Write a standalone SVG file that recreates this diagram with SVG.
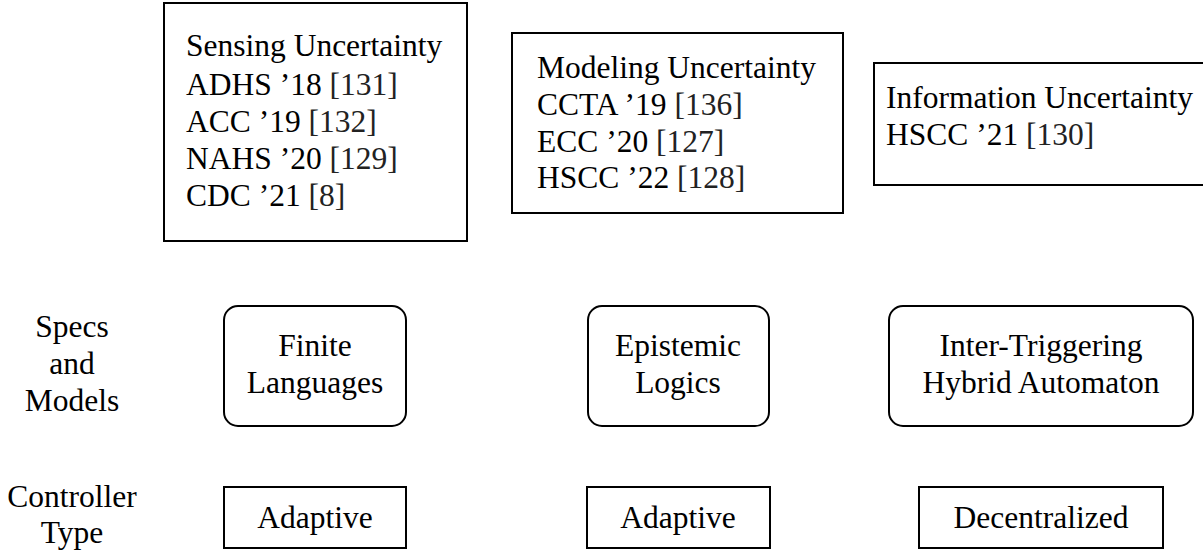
<svg xmlns="http://www.w3.org/2000/svg" width="1203" height="552" viewBox="0 0 1203 552">
  <style>
    text { font-family: "Liberation Serif", "Times New Roman", serif; font-size: 31.5px; fill: #000; }
    .mid { text-anchor: middle; }
    .cite { fill: #222; }
    .box { fill: #fff; stroke: #000; stroke-width: 2; }
  </style>
  <rect width="1203" height="552" fill="#fff"/>

  <!-- row labels -->
  <g id="label-specs">
    <text class="mid" x="72" y="337">Specs</text>
    <text class="mid" x="72" y="374">and</text>
    <text class="mid" x="72" y="411">Models</text>
  </g>
  <g id="label-controller">
    <text class="mid" x="72" y="507">Controller</text>
    <text class="mid" x="72" y="543">Type</text>
  </g>

  <!-- uncertainty categories with publications -->
  <g id="sensing">
    <rect class="box" x="164" y="3" width="303" height="238"/>
    <text x="186" y="56">Sensing Uncertainty</text>
    <text x="186" y="95">ADHS ’18 <tspan class="cite">[131]</tspan></text>
    <text x="186" y="132">ACC ’19 <tspan class="cite">[132]</tspan></text>
    <text x="186" y="169">NAHS ’20 <tspan class="cite">[129]</tspan></text>
    <text x="186" y="206">CDC ’21 <tspan class="cite">[8]</tspan></text>
  </g>
  <g id="modeling">
    <rect class="box" x="512" y="33" width="331" height="180"/>
    <text x="537" y="78">Modeling Uncertainty</text>
    <text x="537" y="115">CCTA ’19 <tspan class="cite">[136]</tspan></text>
    <text x="537" y="152">ECC ’20 <tspan class="cite">[127]</tspan></text>
    <text x="537" y="188">HSCC ’22 <tspan class="cite">[128]</tspan></text>
  </g>
  <g id="information">
    <rect class="box" x="874" y="63" width="340" height="122"/>
    <text x="886" y="108">Information Uncertainty</text>
    <text x="886" y="145">HSCC ’21 <tspan class="cite">[130]</tspan></text>
  </g>

  <!-- specifications and models -->
  <g id="finite-languages">
    <rect class="box" x="224" y="306" width="182" height="120" rx="14"/>
    <text class="mid" x="315" y="356">Finite</text>
    <text class="mid" x="315" y="393">Languages</text>
  </g>
  <g id="epistemic-logics">
    <rect class="box" x="588" y="306" width="181" height="120" rx="14"/>
    <text class="mid" x="678" y="356">Epistemic</text>
    <text class="mid" x="678" y="393">Logics</text>
  </g>
  <g id="hybrid-automaton">
    <rect class="box" x="889" y="306" width="304" height="120" rx="14"/>
    <text class="mid" x="1041" y="356">Inter-Triggering</text>
    <text class="mid" x="1041" y="393">Hybrid Automaton</text>
  </g>

  <!-- controller types -->
  <g id="adaptive-1">
    <rect class="box" x="224" y="487" width="182" height="61"/>
    <text class="mid" x="315" y="528">Adaptive</text>
  </g>
  <g id="adaptive-2">
    <rect class="box" x="587" y="487" width="183" height="61"/>
    <text class="mid" x="678" y="528">Adaptive</text>
  </g>
  <g id="decentralized">
    <rect class="box" x="919" y="487" width="244" height="61"/>
    <text class="mid" x="1041" y="528">Decentralized</text>
  </g>

  <g id="connectors"/>
</svg>
